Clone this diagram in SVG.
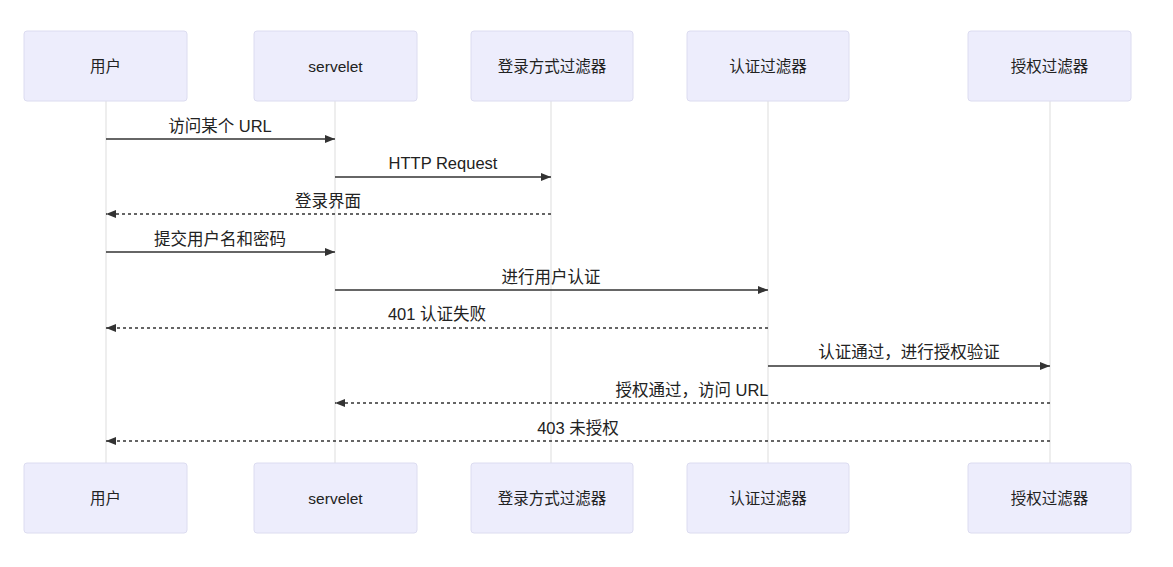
<svg xmlns="http://www.w3.org/2000/svg" width="1173" height="567" viewBox="0 0 1173 567">
<style>
.actor rect{fill:#ededfc;stroke:#dcdcf0;stroke-width:1}
.actor text{font-family:"Liberation Sans","Noto Sans CJK SC",sans-serif;font-size:15.5px;fill:#222;text-anchor:middle;dominant-baseline:central}
.life{stroke:#dddddd;stroke-width:1}
.msg{stroke:#333;stroke-width:1.5;fill:none}
.dash{stroke-dasharray:3,3}
.lbl{font-family:"Liberation Sans","Noto Sans CJK SC",sans-serif;font-size:16.5px;fill:#222;text-anchor:middle}
</style>
<defs>
<marker id="ah" viewBox="0 0 10 10" refX="10" refY="5" markerWidth="10" markerHeight="10" markerUnits="userSpaceOnUse" orient="auto">
<path d="M0,1 L10,5 L0,9 z" fill="#333"/>
</marker>
</defs>
<rect width="1173" height="567" fill="#ffffff"/>
<g id="lifelines">
<line class="life" x1="106" y1="101" x2="106" y2="463"/>
<line class="life" x1="335" y1="101" x2="335" y2="463"/>
<line class="life" x1="551" y1="101" x2="551" y2="463"/>
<line class="life" x1="768" y1="101" x2="768" y2="463"/>
<line class="life" x1="1050" y1="101" x2="1050" y2="463"/>
</g>
<g id="actor-user-top" class="actor"><rect x="24" y="31" width="163" height="70" rx="3"/><text x="105.5" y="66">用户</text></g>
<g id="actor-servelet-top" class="actor"><rect x="254" y="31" width="163" height="70" rx="3"/><text x="335.5" y="66">servelet</text></g>
<g id="actor-loginfilter-top" class="actor"><rect x="471" y="31" width="162" height="70" rx="3"/><text x="552" y="66">登录方式过滤器</text></g>
<g id="actor-authnfilter-top" class="actor"><rect x="687" y="31" width="162" height="70" rx="3"/><text x="768" y="66">认证过滤器</text></g>
<g id="actor-authzfilter-top" class="actor"><rect x="968" y="31" width="163" height="70" rx="3"/><text x="1049.5" y="66">授权过滤器</text></g>
<g id="actor-user-bottom" class="actor"><rect x="24" y="463" width="163" height="70" rx="3"/><text x="105.5" y="498">用户</text></g>
<g id="actor-servelet-bottom" class="actor"><rect x="254" y="463" width="163" height="70" rx="3"/><text x="335.5" y="498">servelet</text></g>
<g id="actor-loginfilter-bottom" class="actor"><rect x="471" y="463" width="162" height="70" rx="3"/><text x="552" y="498">登录方式过滤器</text></g>
<g id="actor-authnfilter-bottom" class="actor"><rect x="687" y="463" width="162" height="70" rx="3"/><text x="768" y="498">认证过滤器</text></g>
<g id="actor-authzfilter-bottom" class="actor"><rect x="968" y="463" width="163" height="70" rx="3"/><text x="1049.5" y="498">授权过滤器</text></g>
<g id="messages">
<line class="msg" x1="106" y1="139" x2="335" y2="139" marker-end="url(#ah)"/>
<text class="lbl" x="220" y="132">访问某个 URL</text>
<line class="msg" x1="335" y1="177" x2="551" y2="177" marker-end="url(#ah)"/>
<text class="lbl" x="443" y="169">HTTP Request</text>
<line class="msg dash" x1="551" y1="214" x2="106" y2="214" marker-end="url(#ah)"/>
<text class="lbl" x="328" y="207">登录界面</text>
<line class="msg" x1="106" y1="252" x2="335" y2="252" marker-end="url(#ah)"/>
<text class="lbl" x="220" y="245">提交用户名和密码</text>
<line class="msg" x1="335" y1="290" x2="768" y2="290" marker-end="url(#ah)"/>
<text class="lbl" x="551" y="283">进行用户认证</text>
<line class="msg dash" x1="768" y1="328" x2="106" y2="328" marker-end="url(#ah)"/>
<text class="lbl" x="437" y="320">401 认证失败</text>
<line class="msg" x1="768" y1="366" x2="1050" y2="366" marker-end="url(#ah)"/>
<text class="lbl" x="909" y="358">认证通过，进行授权验证</text>
<line class="msg dash" x1="1050" y1="403" x2="335" y2="403" marker-end="url(#ah)"/>
<text class="lbl" x="692" y="396">授权通过，访问 URL</text>
<line class="msg dash" x1="1050" y1="441" x2="106" y2="441" marker-end="url(#ah)"/>
<text class="lbl" x="578" y="434">403 未授权</text>
</g>
</svg>
